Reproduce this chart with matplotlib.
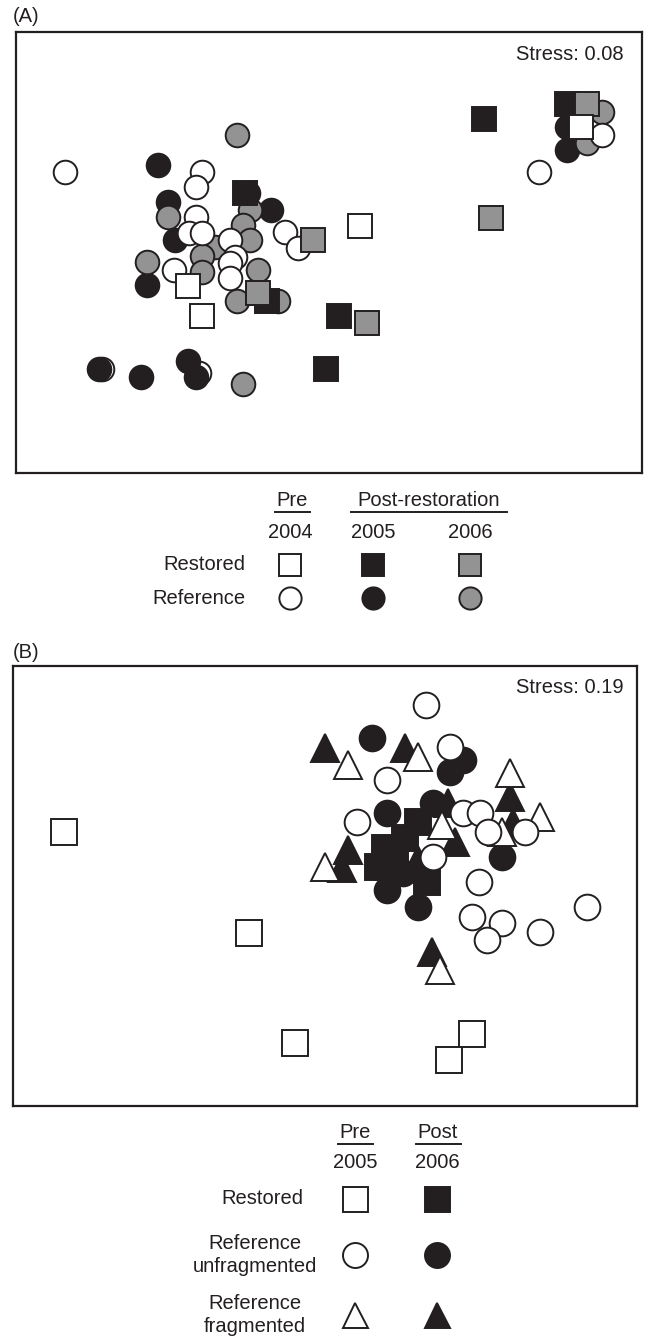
import matplotlib.pyplot as plt

plt.rcParams['font.family'] = ['Liberation Sans', 'DejaVu Sans']

BLACK = '#231f20'
GREY = '#939393'
FS = 14.5

# ---- (A) NMDS scores: restored vs reference sites, 2004-2006 ----
a_rest04_x = [-1.38, -1.24, 0.34, 2.55]
a_rest04_y = [-0.34, -0.64, 0.26, 1.25]
a_rest05_x = [1.58, 2.41, 0.13, 0.00, -0.59, -0.81]
a_rest05_y = [1.33, 1.48, -0.64, -1.17, -0.49, 0.59]
a_rest06_x = [-0.13, -0.68, 0.41, 1.65, 2.61]
a_rest06_y = [0.12, -0.41, -0.71, 0.34, 1.48]

# last two reference-2004 sites sit underneath the 2005 points
a_ref04_x = [-2.61, -1.24, -1.30, -1.30, -1.37, -1.24, -0.96, -0.91, -0.96,
             -0.96, -1.52, -0.41, -0.28, 2.13, 2.76, -2.24, -1.27]
a_ref04_y = [0.80, 0.80, 0.65, 0.35, 0.19, 0.19, 0.12, -0.05, -0.11,
             -0.26, -0.18, 0.20, 0.04, 0.80, 1.17, -1.17, -1.21]
a_ref05_x = [-1.68, -1.58, -0.78, -0.55, -1.51, -1.79, -2.27, -1.85, -1.38,
             -1.30, 2.41, 2.41]
a_ref05_y = [0.87, 0.50, 0.59, 0.42, 0.12, -0.33, -1.17, -1.25, -1.09,
             -1.25, 1.25, 1.02]
a_ref06_x = [-0.89, -1.58, -0.76, -0.83, -0.76, -1.11, -1.24, -1.24, -1.79,
             -0.68, -0.89, -0.48, -0.83, 2.76, 2.61]
a_ref06_y = [1.17, 0.35, 0.42, 0.27, 0.12, 0.05, -0.04, -0.20, -0.10,
             -0.18, -0.49, -0.49, -1.32, 1.40, 1.09]

# ---- (B) NMDS scores: restored, unfragmented and fragmented reference ----
b_rest05_x = [-2.61, -0.76, -0.30, 1.47, 1.24]
b_rest05_y = [0.57, -0.44, -1.54, -1.45, -1.71]
b_rest06_x = [0.93, 0.80, 0.60, 0.53, 1.02, 0.70]
b_rest06_y = [0.67, 0.51, 0.41, 0.22, 0.07, 0.27]

b_unf05_x = [1.01, 1.25, 0.62, 1.38, 1.55, 1.63, 2.00, 0.32, 1.08, 1.54,
             1.47, 1.77, 1.62, 2.15, 2.62]
b_unf05_y = [1.84, 1.42, 1.09, 0.76, 0.76, 0.57, 0.57, 0.67, 0.32, 0.07,
             -0.28, -0.34, -0.51, -0.43, -0.18]
b_unf06_x = [0.47, 1.38, 1.25, 0.62, 1.08, 1.77, 0.78, 0.62, 0.93]
b_unf06_y = [1.51, 1.29, 1.17, 0.76, 0.86, 0.32, 0.16, -0.01, -0.18]

b_frag05_x = [0.93, 0.23, 1.85, 1.77, 2.15, 1.17, 0.00, 1.15]
b_frag05_y = [1.32, 1.24, 1.16, 0.57, 0.72, 0.64, 0.22, -0.81]
b_frag06_x = [0.00, 0.80, 1.85, 1.88, 1.23, 1.30, 0.23, 0.17, 0.93, 1.07]
b_frag06_y = [1.41, 1.41, 0.92, 0.66, 0.86, 0.47, 0.39, 0.21, 0.29, -0.63]

W, H = 645, 1340
fig = plt.figure(figsize=(W / 100, H / 100), dpi=100)


def px_axes(left, top, right, bottom):
    return fig.add_axes([left / W, 1 - bottom / H, (right - left) / W, (bottom - top) / H])


def pts(ax, x, y, marker, face, ms, z):
    ax.plot(x, y, linestyle='none', marker=marker, ms=ms, mfc=face,
            mec=BLACK, mew=1.4, zorder=z, clip_on=False)


def frame(ax, xlim, ylim, stress, sx, sy):
    ax.set_xlim(*xlim)
    ax.set_ylim(*ylim)
    ax.set_xticks([])
    ax.set_yticks([])
    for s in ax.spines.values():
        s.set_linewidth(1.6)
        s.set_color(BLACK)
    ax.text(sx, sy, 'Stress: ' + stress, transform=ax.transAxes,
            ha='right', va='center', fontsize=FS, color=BLACK)


# panel A
ax_a = px_axes(16, 32, 642, 473)
frame(ax_a, (-3.10, 3.16), (-2.21, 2.20), '0.08', 0.970, 0.948)
ms_a = 17
pts(ax_a, a_ref04_x[15:], a_ref04_y[15:], 'o', 'white', ms_a, 1)
pts(ax_a, a_ref05_x, a_ref05_y, 'o', BLACK, ms_a, 2)
pts(ax_a, a_ref06_x, a_ref06_y, 'o', GREY, ms_a, 3)
pts(ax_a, a_ref04_x[:15], a_ref04_y[:15], 'o', 'white', ms_a, 4)
pts(ax_a, a_rest05_x, a_rest05_y, 's', BLACK, ms_a, 5)
pts(ax_a, a_rest06_x, a_rest06_y, 's', GREY, ms_a, 6)
pts(ax_a, a_rest04_x, a_rest04_y, 's', 'white', ms_a, 7)

# panel B
ax_b = px_axes(13, 666, 637, 1106)
frame(ax_b, (-3.12, 3.12), (-2.17, 2.23), '0.19', 0.978, 0.952)
pts(ax_b, b_unf06_x, b_unf06_y, 'o', BLACK, 18.5, 2)
pts(ax_b, b_rest06_x, b_rest06_y, 's', BLACK, 18.5, 3)
pts(ax_b, b_frag06_x, b_frag06_y, '^', BLACK, 20, 4)
pts(ax_b, b_frag05_x, b_frag05_y, '^', 'white', 20, 5)
pts(ax_b, b_unf05_x, b_unf05_y, 'o', 'white', 18.5, 6)
pts(ax_b, b_rest05_x, b_rest05_y, 's', 'white', 18.5, 7)

# overlay in pixel units for panel letters and legends
ov = fig.add_axes([0, 0, 1, 1], zorder=-1)
ov.set_xlim(0, W)
ov.set_ylim(H, 0)
ov.axis('off')

ov.text(13, 17, '(A)', fontsize=FS, ha='left', va='center', color=BLACK)
ov.text(13, 652, '(B)', fontsize=FS, ha='left', va='center', color=BLACK)


def header(text, xc, y, x0, x1, uy):
    ov.text(xc, y, text, fontsize=FS, ha='center', va='center', color=BLACK)
    ov.plot([x0, x1], [uy, uy], color=BLACK, lw=1.4)


# legend A
leg_a_cols = [290, 373, 470]
leg_a_years = ['2004', '2005', '2006']
leg_a_rows = ['Restored', 'Reference']
leg_a_row_y = [565, 598]
leg_a_marks = ['s', 'o']
leg_a_faces = ['white', BLACK, GREY]
header('Pre', 292, 500, 275, 310, 512)
header('Post-restoration', 429, 500, 351, 507, 512)
for xc, yr in zip(leg_a_cols, leg_a_years):
    ov.text(xc, 533, yr, fontsize=FS, ha='center', va='center', color=BLACK)
for lab, yc, mk in zip(leg_a_rows, leg_a_row_y, leg_a_marks):
    ov.text(245, yc, lab, fontsize=FS, ha='right', va='center', color=BLACK)
    for xc, fc in zip(leg_a_cols, leg_a_faces):
        ov.plot([xc], [yc], marker=mk, ms=16, mfc=fc, mec=BLACK, mew=1.4)

# legend B
leg_b_cols = [355, 437]
leg_b_years = ['2005', '2006']
leg_b_rows = ['Restored', 'Reference\nunfragmented', 'Reference\nfragmented']
leg_b_row_y = [1199, 1255, 1315]
leg_b_marks = ['s', 'o', '^']
leg_b_faces = ['white', BLACK]
header('Pre', 355, 1132, 338, 373, 1144)
header('Post', 438, 1132, 416, 461, 1144)
for xc, yr in zip(leg_b_cols, leg_b_years):
    ov.text(xc, 1163, yr, fontsize=FS, ha='center', va='center', color=BLACK)
for lab, yc, mk in zip(leg_b_rows, leg_b_row_y, leg_b_marks):
    if '\n' in lab:
        ov.text(255, yc, lab, fontsize=FS, ha='center', va='center',
                multialignment='center', linespacing=1.25, color=BLACK)
    else:
        ov.text(303, yc, lab, fontsize=FS, ha='right', va='center', color=BLACK)
    for xc, fc in zip(leg_b_cols, leg_b_faces):
        ov.plot([xc], [yc], marker=mk, ms=18, mfc=fc, mec=BLACK, mew=1.4)

fig.savefig('out.png', dpi=100)
